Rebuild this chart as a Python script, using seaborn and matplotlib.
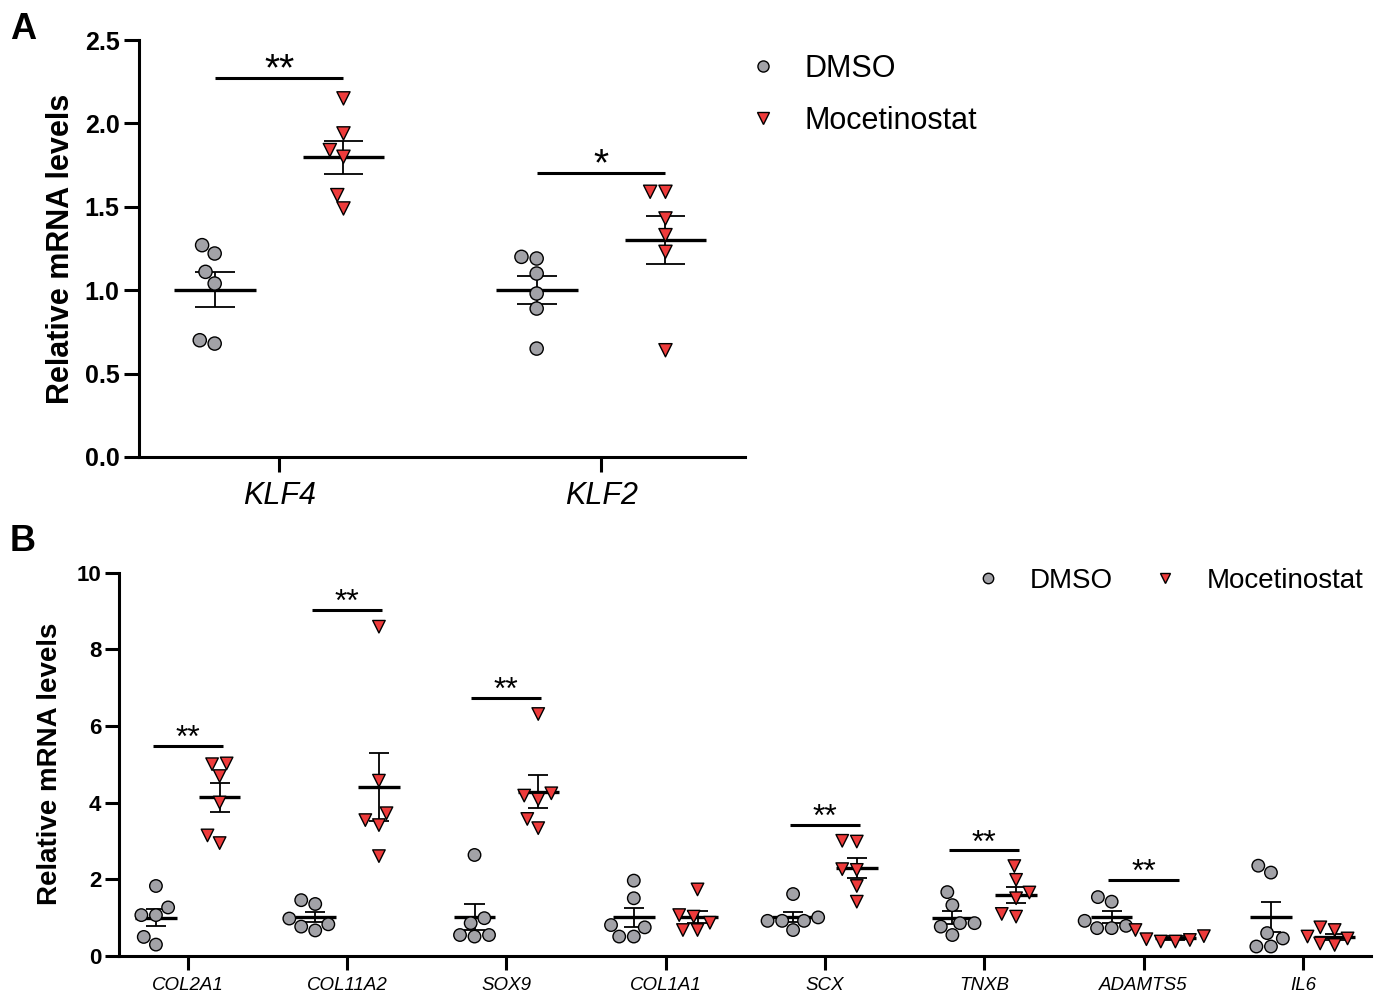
import numpy as np
import pandas as pd
import matplotlib
matplotlib.use("Agg")
import matplotlib.pyplot as plt
from matplotlib.lines import Line2D
import seaborn as sns

# ---------------- data ----------------
groups = ["DMSO", "Mocetinostat"]

a_genes = ["KLF4", "KLF2"]
a_dmso = [[1.22, 1.27, 1.11, 1.04, 0.68, 0.70],
          [1.19, 1.20, 1.10, 0.98, 0.89, 0.65]]
a_moc = [[2.15, 1.94, 1.84, 1.80, 1.57, 1.49],
         [1.59, 1.59, 1.43, 1.33, 1.23, 0.64]]
a_sig_genes = ["KLF4", "KLF2"]
a_sig_labels = ["**", "*"]
a_sig_y = [2.27, 1.70]

b_genes = ["COL2A1", "COL11A2", "SOX9", "COL1A1", "SCX", "TNXB", "ADAMTS5", "IL6"]
b_dmso = [[1.82, 1.26, 1.06, 1.06, 0.49, 0.29],
          [1.35, 1.45, 0.97, 0.82, 0.76, 0.66],
          [2.63, 0.98, 0.85, 0.50, 0.54, 0.54],
          [1.96, 1.50, 0.74, 0.80, 0.50, 0.50],
          [1.61, 1.00, 0.91, 0.91, 0.91, 0.67],
          [1.66, 1.32, 0.85, 0.85, 0.76, 0.54],
          [1.41, 1.53, 0.91, 0.72, 0.72, 0.78],
          [2.35, 2.17, 0.45, 0.59, 0.24, 0.24]]
b_moc = [[5.00, 5.02, 4.69, 4.00, 3.14, 2.94],
         [8.59, 4.57, 3.54, 3.72, 3.41, 2.60],
         [6.31, 4.24, 4.08, 4.18, 3.57, 3.33],
         [1.73, 1.06, 0.86, 1.02, 0.67, 0.67],
         [2.98, 3.00, 2.24, 2.26, 1.82, 1.41],
         [2.34, 1.98, 1.50, 1.65, 1.02, 1.09],
         [0.67, 0.51, 0.37, 0.41, 0.43, 0.37],
         [0.67, 0.74, 0.50, 0.45, 0.28, 0.32]]
b_sig_genes = ["COL2A1", "COL11A2", "SOX9", "SCX", "TNXB", "ADAMTS5"]
b_sig_labels = ["**", "**", "**", "**", "**", "**"]
b_sig_y = [5.48, 9.03, 6.72, 3.41, 2.75, 1.98]

a_yticks = [0.0, 0.5, 1.0, 1.5, 2.0, 2.5]
b_yticks = [0, 2, 4, 6, 8, 10]

# ---------------- style ----------------
sns.set_theme(style="ticks")
plt.rcParams["font.family"] = ["Liberation Sans", "DejaVu Sans"]
for k in ["text.color", "axes.labelcolor", "xtick.color", "ytick.color",
          "axes.edgecolor"]:
    plt.rcParams[k] = "black"

GRAY = "#A2A2A7"
RED = "#EE3B3B"
colors = {"DMSO": GRAY, "Mocetinostat": RED}
markers = {"DMSO": "o", "Mocetinostat": "v"}


def to_long(genes, dmso, moc):
    rows = []
    for g, d, m in zip(genes, dmso, moc):
        rows += [(g, "DMSO", v) for v in d]
        rows += [(g, "Mocetinostat", v) for v in m]
    return pd.DataFrame(rows, columns=["gene", "group", "value"])


def draw_panel(ax, df, genes, size, mean_hw, cap_hw, sig_genes, sig_labels,
               sig_y, sig_hw, star_size, star_off):
    offs = {"DMSO": -0.2, "Mocetinostat": 0.2}
    # mean +/- SEM
    for i, g in enumerate(genes):
        for grp in groups:
            vals = df[(df.gene == g) & (df.group == grp)]["value"].to_numpy()
            m = vals.mean()
            se = vals.std(ddof=1) / np.sqrt(len(vals))
            x = i + offs[grp]
            ax.hlines(m, x - mean_hw, x + mean_hw, color="black", lw=2.4, zorder=2)
            ax.vlines(x, m - se, m + se, color="black", lw=1.3, zorder=2)
            ax.hlines([m - se, m + se], x - cap_hw, x + cap_hw, color="black",
                      lw=1.3, zorder=2)
    # points
    for grp in groups:
        sns.swarmplot(data=df[df.group == grp], x="gene", y="value", hue="group",
                      order=genes, hue_order=groups, dodge=True,
                      palette=colors, marker=markers[grp], size=size,
                      edgecolor="black", linewidth=1.0, legend=False, ax=ax,
                      zorder=3)
    # significance bars
    for g, lab, y in zip(sig_genes, sig_labels, sig_y):
        i = genes.index(g)
        ax.plot([i - sig_hw, i + sig_hw], [y, y], color="black", lw=2.2,
                solid_capstyle="butt", zorder=2)
        ax.annotate(lab, xy=(i, y), xytext=(0, star_off), textcoords="offset points",
                    ha="center", va="center", fontsize=star_size, color="black")
    sns.despine(ax=ax)
    for s in ["left", "bottom"]:
        ax.spines[s].set_linewidth(2.2)
        ax.spines[s].set_color("black")
    ax.set_xlabel("")


fig = plt.figure(figsize=(13.79, 9.96), dpi=100)

# ---------------- Panel A ----------------
axA = fig.add_axes([139 / 1379, 1 - 457 / 996, 606 / 1379, 417 / 996])
dfA = to_long(a_genes, a_dmso, a_moc)
draw_panel(axA, dfA, a_genes, size=9.5, mean_hw=0.127, cap_hw=0.062,
           sig_genes=a_sig_genes, sig_labels=a_sig_labels, sig_y=a_sig_y,
           sig_hw=0.2, star_size=28, star_off=6)
axA.set_xlim(-0.435, 1.447)
axA.set_ylim(0, 2.5)
axA.set_yticks(a_yticks)
axA.set_yticklabels([f"{t:.1f}" for t in a_yticks], fontsize=18, fontweight="bold")
axA.set_xticks(range(len(a_genes)))
axA.set_xticklabels(a_genes, fontsize=22, fontstyle="italic")
axA.tick_params(axis="both", length=11, width=2.2, color="black")
axA.tick_params(axis="x", pad=6)
axA.tick_params(axis="y", pad=3)
axA.set_ylabel("Relative mRNA levels", fontsize=22, fontweight="bold", labelpad=6)

# ---------------- Panel B ----------------
axB = fig.add_axes([119.3 / 1379, 1 - 955.7 / 996, 1252 / 1379, 383 / 996])
dfB = to_long(b_genes, b_dmso, b_moc)
draw_panel(axB, dfB, b_genes, size=9, mean_hw=0.13, cap_hw=0.063,
           sig_genes=b_sig_genes, sig_labels=b_sig_labels, sig_y=b_sig_y,
           sig_hw=0.22, star_size=23, star_off=5)
axB.set_xlim(-0.43, 7.43)
axB.set_ylim(0, 10)
axB.set_yticks(b_yticks)
axB.set_yticklabels([str(t) for t in b_yticks], fontsize=16, fontweight="bold")
axB.set_xticks(range(len(b_genes)))
axB.set_xticklabels(b_genes, fontsize=13.5, fontstyle="italic")
axB.tick_params(axis="both", length=10, width=2.2, color="black")
axB.tick_params(axis="x", pad=5)
axB.tick_params(axis="y", pad=3)
axB.set_ylabel("Relative mRNA levels", fontsize=20, fontweight="bold", labelpad=10)

# ---------------- legends ----------------
def handles(ms):
    return [Line2D([], [], linestyle="none", marker=markers[g], markersize=ms,
                   markerfacecolor=colors[g], markeredgecolor="black",
                   markeredgewidth=1.0, label=g) for g in groups]

fig.legend(handles=handles(8), loc="upper left",
           bbox_to_anchor=(722 / 1379, 1 - 26 / 996), frameon=False,
           fontsize=22, handlelength=0.9, handletextpad=0.9, labelspacing=0.72)
fig.legend(handles=handles(7.5), loc="upper left", ncol=2,
           bbox_to_anchor=(949 / 1379, 1 - 543 / 996), frameon=False,
           fontsize=20, handlelength=1.0, handletextpad=1.0, columnspacing=1.4)

# panel letters
fig.text(10 / 1379, 1 - 12 / 996, "A", fontsize=26, fontweight="bold", va="top")
fig.text(10 / 1379, 1 - 524 / 996, "B", fontsize=26, fontweight="bold", va="top")

fig.savefig("out.png", dpi=100)
